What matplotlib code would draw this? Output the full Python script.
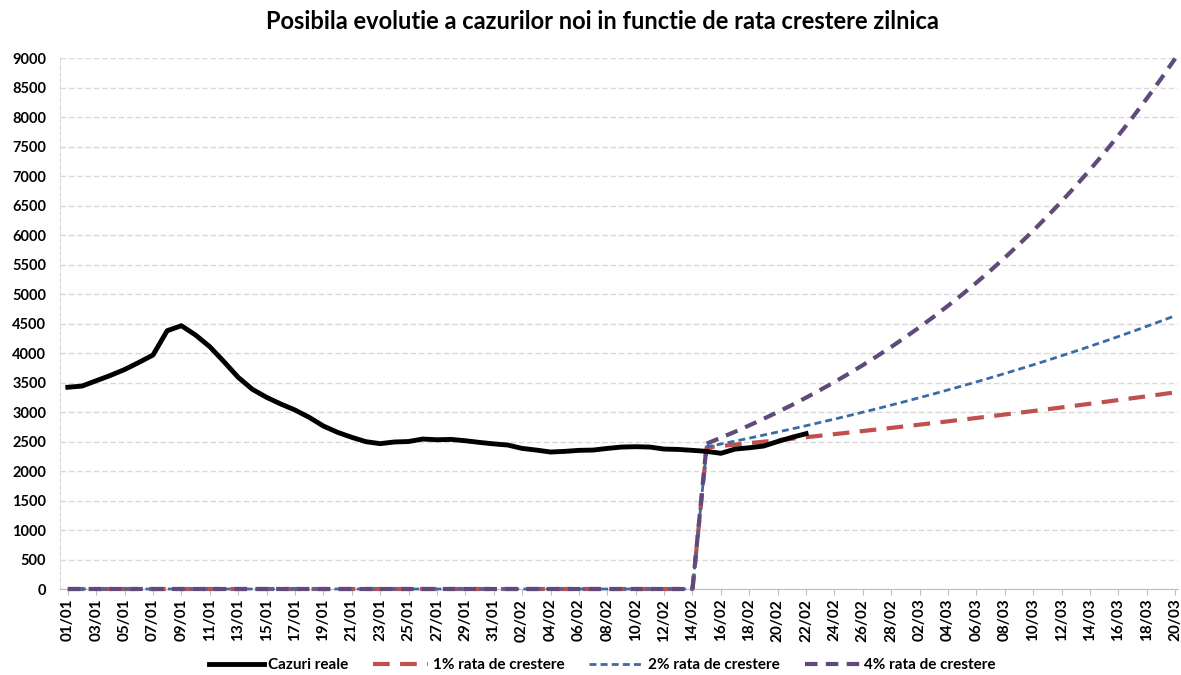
import matplotlib.pyplot as plt
import datetime as dt

plt.rcParams['font.family'] = ['Lato', 'DejaVu Sans']

# zile 01/01 - 20/03
start = dt.date(2021, 1, 1)
dates = [(start + dt.timedelta(days=i)).strftime('%d/%m') for i in range(79)]

# cazuri reale 01/01 - 22/02
reale = [3420, 3440, 3530, 3620, 3720, 3840, 3966, 4378, 4463, 4305,
         4107, 3853, 3588, 3385, 3249, 3136, 3034, 2910, 2763, 2656,
         2571, 2497, 2464, 2492, 2500, 2542, 2530, 2536, 2513, 2485,
         2460, 2440, 2383, 2355, 2322, 2333, 2350, 2355, 2383, 2406,
         2412, 2406, 2372, 2366, 2350, 2333, 2300, 2372, 2394, 2423,
         2500, 2570, 2633]

zero = [0] * 45  # 01/01 - 14/02

r1 = zero + [2400, 2424, 2448, 2473, 2497, 2522, 2548, 2573, 2599, 2625,
             2651, 2678, 2704, 2731, 2759, 2786, 2814, 2842, 2871, 2899,
             2928, 2958, 2987, 3017, 3047, 3078, 3109, 3140, 3171, 3203,
             3235, 3267, 3300, 3333]
r2 = zero + [2410, 2458, 2507, 2557, 2609, 2661, 2714, 2768, 2824, 2880,
             2938, 2997, 3056, 3118, 3180, 3244, 3308, 3375, 3442, 3511,
             3581, 3653, 3726, 3800, 3876, 3954, 4033, 4114, 4196, 4280,
             4365, 4453, 4542, 4633]
r4 = zero + [2465, 2564, 2666, 2773, 2884, 2999, 3119, 3244, 3374, 3508,
             3649, 3795, 3947, 4104, 4269, 4439, 4617, 4802, 4994, 5193,
             5401, 5617, 5842, 6075, 6319, 6571, 6834, 7108, 7392, 7688,
             7995, 8315, 8648, 8993]

fig = plt.figure(figsize=(11.81, 6.75), dpi=100)
ax = fig.add_axes([0.0508, 0.1274, 0.9467, 0.7866])

x = list(range(len(dates)))
ax.plot(x[:len(reale)], reale, color='black', lw=3.5, label='Cazuri reale', zorder=5)
ax.plot(x, r1, color='#C0504D', lw=3, dashes=(4, 2.5), label='1% rata de crestere',
        zorder=3, clip_on=False)
ax.plot(x, r2, color='#3B6BA5', lw=2, dashes=(2.5, 1.5), label='2% rata de crestere',
        zorder=4, clip_on=False)
ax.plot(x, r4, color='#604A7B', lw=3, dashes=(3, 2), label='4% rata de crestere',
        zorder=4, clip_on=False)

ax.set_xlim(-0.55, 78.2)
ax.set_ylim(0, 9000)
ax.set_yticks(range(0, 9001, 500))
ax.set_yticklabels([str(v) for v in range(0, 9001, 500)], fontsize=10.5, fontweight='bold')
ax.set_xticks(x[::2])
ax.set_xticklabels(dates[::2], rotation=90, fontsize=11, fontweight='bold')
ax.tick_params(axis='y', length=0, pad=10)
ax.tick_params(axis='x', length=4, color='#BFBFBF', pad=3)

ax.grid(axis='y', color='#D9D9D9', ls=(0, (4, 2)), lw=1)
for s in ['top', 'right']:
    ax.spines[s].set_visible(False)
ax.spines['left'].set_color('#D9D9D9')
ax.spines['left'].set_linestyle((0, (4, 2)))
ax.spines['bottom'].set_color('#BFBFBF')

fig.suptitle('Posibila evolutie a cazurilor noi in functie de rata crestere zilnica',
             x=0.51, y=0.985, fontsize=17, fontweight='bold')

leg = fig.legend(loc='center', bbox_to_anchor=(0.51, 0.015), ncol=4, frameon=False,
                 prop={'size': 11, 'weight': 'bold'}, handlelength=3.6, columnspacing=1.6,
                 handletextpad=0.3)

fig.savefig('out.png', dpi=100)
